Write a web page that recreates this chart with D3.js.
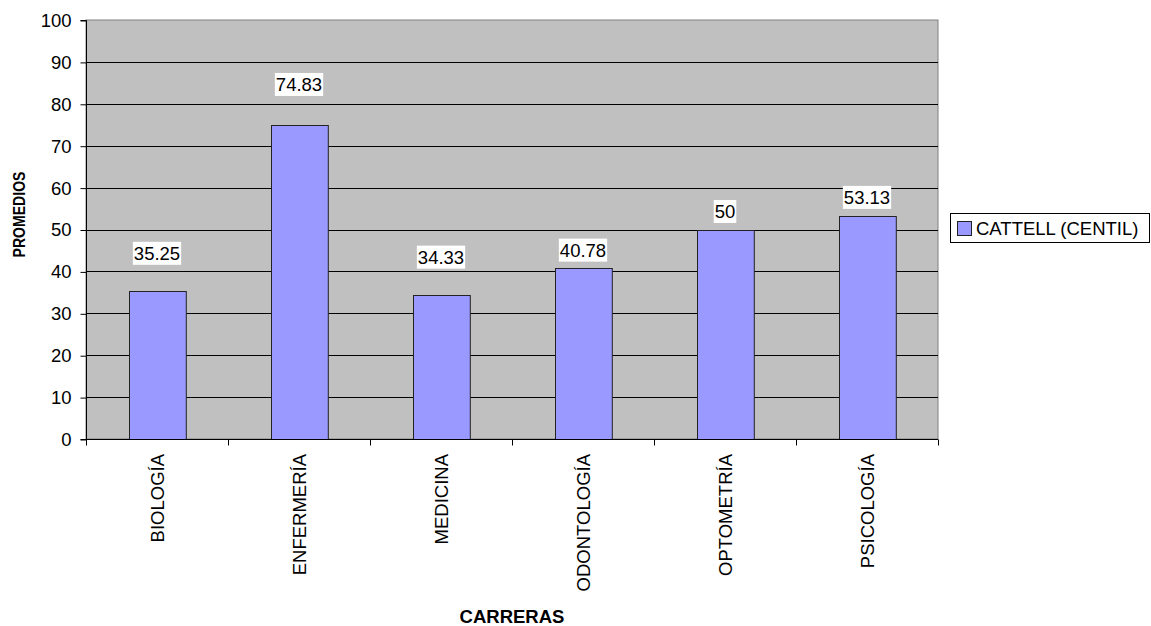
<!DOCTYPE html>
<html>
<head>
<meta charset="utf-8">
<script src="https://cdn.jsdelivr.net/npm/d3@7"></script>
<style>
  html, body { margin: 0; padding: 0; background: #fff; }
  svg { display: block; font-family: "Liberation Sans", Arial, sans-serif; }
</style>
</head>
<body>
<svg id="chart" width="1151" height="626"></svg>
<script>
// ---- data ----
const categories = ["BIOLOGÍA", "ENFERMERÍA", "MEDICINA", "ODONTOLOGÍA", "OPTOMETRÍA", "PSICOLOGÍA"];
const values = [35.25, 74.83, 34.33, 40.78, 50, 53.13];
const valueLabels = ["35.25", "74.83", "34.33", "40.78", "50", "53.13"];
const yTicks = [0, 10, 20, 30, 40, 50, 60, 70, 80, 90, 100];
const seriesName = "CATTELL (CENTIL)";
const xTitle = "CARRERAS";
const yTitle = "PROMEDIOS";

// ---- layout (not data) ----
const labelLift = [38, 41, 38, 18, 18, 19]; // px above bar top for label centres
const M = { left: 86, top: 20, right: 938, bottom: 439 };
const FS = 18.5;

const svg = d3.select("#chart");

const x = d3.scaleBand().domain(categories).range([M.left, M.right]).paddingInner(0.6).paddingOuter(0.3);
const xb = d3.scaleBand().domain(categories).range([M.left, M.right]);
const y = d3.scaleLinear().domain([0, 100]).range([M.bottom, M.top]);

// plot background
svg.append("rect")
  .attr("x", M.left).attr("y", M.top)
  .attr("width", M.right - M.left).attr("height", M.bottom - M.top)
  .attr("fill", "#C0C0C0")
  .attr("stroke", "#808080").attr("stroke-width", 1);

// gridlines
svg.append("g").selectAll("line").data(yTicks.filter(d => d > 0 && d < 100)).join("line")
  .attr("x1", M.left).attr("x2", M.right)
  .attr("y1", d => Math.round(y(d)) + 0.5).attr("y2", d => Math.round(y(d)) + 0.5)
  .attr("stroke", "#000").attr("stroke-width", 1);

// bars
svg.append("g").selectAll("rect").data(values).join("rect")
  .attr("x", (d, i) => Math.round(x(categories[i])) + 0.5)
  .attr("y", d => Math.round(y(d)) + 0.5)
  .attr("width", x.bandwidth())
  .attr("height", d => Math.round(y(0)) - Math.round(y(d)))
  .attr("fill", "#9999FF")
  .attr("stroke", "#222").attr("stroke-width", 1);

// y axis
const yAxis = d3.axisLeft(y).tickValues(yTicks).tickSize(6).tickPadding(9).tickFormat(d3.format("d"));
const gy = svg.append("g").attr("transform", `translate(${M.left + 0.5},0.5)`).call(yAxis);
gy.select(".domain").attr("stroke", "#000").attr("d", `M-6,${M.top}H0V${M.bottom}H-6`);
gy.selectAll(".tick line").attr("stroke", "#000");
gy.selectAll(".tick text").attr("font-size", FS).attr("fill", "#000").attr("font-family", "Liberation Sans, Arial, sans-serif");

// x axis
const xAxis = d3.axisBottom(xb).tickSize(0).tickFormat("");
const gx = svg.append("g").attr("transform", `translate(0,${M.bottom + 0.5})`).call(xAxis);
gx.select(".domain").attr("stroke", "#000").attr("d", `M${M.left},0H${M.right}`);
gx.selectAll(".tick").remove();
// boundary ticks
const bounds = categories.map(c => xb(c)).concat([M.right]);
gx.selectAll("line.bt").data(bounds).join("line")
  .attr("class", "bt")
  .attr("x1", d => Math.round(d) + 0.5).attr("x2", d => Math.round(d) + 0.5)
  .attr("y1", 0).attr("y2", 6)
  .attr("stroke", "#000");
// category labels rotated
svg.append("g").selectAll("text").data(categories).join("text")
  .attr("transform", d => `translate(${xb(d) + xb.bandwidth() / 2},454) rotate(-90)`)
  .attr("text-anchor", "end")
  .attr("dominant-baseline", "central")
  .attr("font-size", FS).attr("fill", "#000")
  .text(d => d);

// value labels with white background
const lg = svg.append("g");
values.forEach((v, i) => {
  const cx = x(categories[i]) + x.bandwidth() / 2;
  const cy = y(v) - labelLift[i];
  const t = lg.append("text")
    .attr("x", cx).attr("y", cy)
    .attr("text-anchor", "middle").attr("dominant-baseline", "central")
    .attr("font-size", FS).attr("fill", "#000")
    .text(valueLabels[i]);
  const bb = t.node().getBBox();
  lg.insert("rect", () => t.node())
    .attr("x", bb.x - 1).attr("y", cy - 11.5)
    .attr("width", bb.width + 2).attr("height", 23)
    .attr("fill", "#fff");
});

// axis titles
svg.append("text")
  .attr("x", (M.left + M.right) / 2).attr("y", 622.5)
  .attr("text-anchor", "middle")
  .attr("font-size", 18.5).attr("font-weight", "bold").attr("fill", "#000")
  .text(xTitle);
svg.append("text")
  .attr("transform", `translate(19,214.5) rotate(-90)`)
  .attr("text-anchor", "middle").attr("dominant-baseline", "central")
  .attr("font-size", 16).attr("font-weight", "bold").attr("fill", "#000")
  .attr("textLength", 86).attr("lengthAdjust", "spacingAndGlyphs")
  .text(yTitle);

// legend
const leg = svg.append("g");
leg.append("rect").attr("x", 950.5).attr("y", 213.5).attr("width", 199).attr("height", 29)
  .attr("fill", "#fff").attr("stroke", "#000");
leg.append("rect").attr("x", 957.5).attr("y", 221.5).attr("width", 14).attr("height", 14)
  .attr("fill", "#9999FF").attr("stroke", "#222");
leg.append("text").attr("x", 976).attr("y", 228.5)
  .attr("dominant-baseline", "central")
  .attr("font-size", FS).attr("fill", "#000")
  .text(seriesName);
</script>
</body>
</html>
